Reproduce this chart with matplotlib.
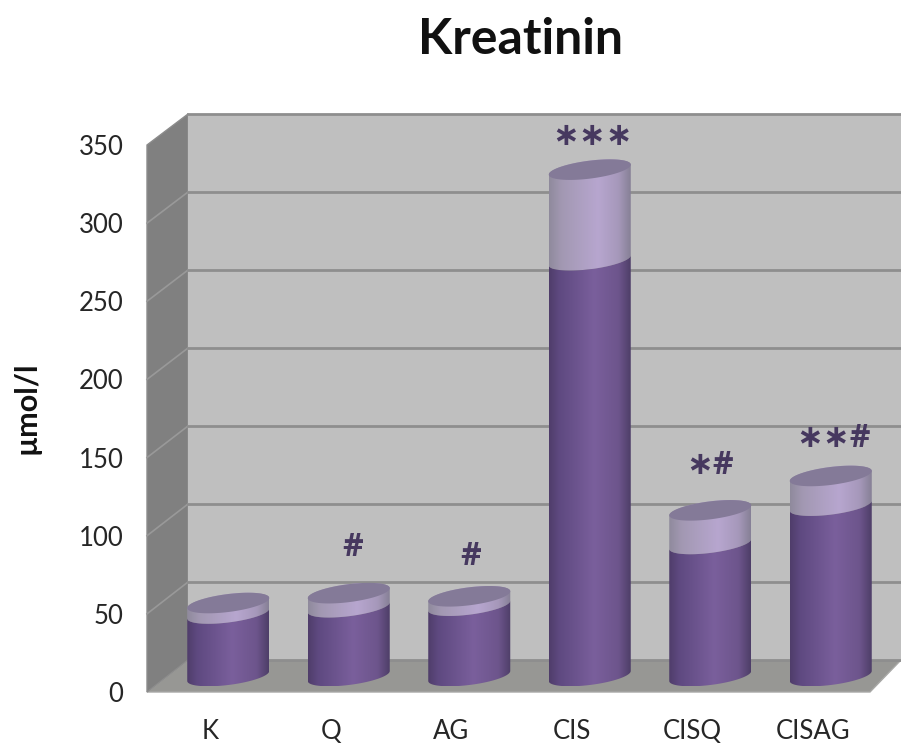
import numpy as np
import matplotlib
matplotlib.use("Agg")
import matplotlib.pyplot as plt
from matplotlib.colors import LinearSegmentedColormap
from matplotlib.path import Path
from matplotlib.patches import Polygon

categories = ["K", "Q", "AG", "CIS", "CISQ", "CISAG"]
mean_values = [40, 44, 45, 266, 84.5, 109]
upper_values = [46.7, 53, 51, 324, 106, 128]
sig_labels = ["", "#", "#", "∗∗∗", "∗#", "∗∗#"]
y_ticks = [0, 50, 100, 150, 200, 250, 300, 350]

W, H = 901, 745
plt.rcParams["font.family"] = ["Lato", "DejaVu Sans"]
fig = plt.figure(figsize=(W / 100, H / 100), dpi=100, facecolor="white")

def axes_px(x0, x1, ybot, ytop, z):
    ax = fig.add_axes([x0 / W, 1 - ybot / H, (x1 - x0) / W, (ybot - ytop) / H])
    ax.set_zorder(z)
    ax.patch.set_alpha(0)
    for s in ax.spines.values():
        s.set_visible(False)
    return ax

# pixel-space frame
frame = axes_px(0, W, H, 0, 0)
frame.set_xlim(0, W)
frame.set_ylim(H, 0)
frame.axis("off")
frame.add_patch(Polygon([(147, 692), (188, 660), (901, 660), (870, 692)], fc="#979794", ec="#a8a8a6", lw=1))
frame.add_patch(Polygon([(147, 145), (188, 114), (188, 660), (147, 692)], fc="#808080", ec="#8c8c8c", lw=1))
for v in y_ticks[1:-1]:
    yf = 692 - v * 547 / 350
    yb = 660 - v * 546 / 350
    frame.plot([147, 188], [yf, yb], color="#999999", lw=1.2)

# back wall
back = axes_px(188, 901, 660, 114, 1)
back.set_facecolor("#bfbfbf")
back.patch.set_alpha(1)
back.set_xlim(0, 1)
back.set_ylim(0, 350)
back.set_yticks(y_ticks)
back.tick_params(left=False, bottom=False, labelleft=False, labelbottom=False)
back.set_xticks([])
back.grid(axis="y", color="#8e8e8e", lw=2, clip_on=False)
back.set_axisbelow(True)

# front plane with the axis labels
main = axes_px(150, 873, 692, 145, 2)
main.set_xlim(-0.5, 5.5)
main.set_ylim(0, 350)
main.set_xticks(range(len(categories)), categories)
main.set_yticks(y_ticks)
main.tick_params(length=0, labelsize=18.5, labelcolor="#262626")
main.tick_params(axis="y", pad=19)
main.tick_params(axis="x", pad=19.5)
main.set_ylabel("µmol/l", fontsize=22, fontweight="bold", color="#111111")
main.yaxis.set_label_coords(-0.151, 0.52)

fig.text(521 / W, 1 - 39 / H, "Kreatinin", fontsize=36, fontweight="bold",
         ha="center", va="center", color="#111111")

# bars sit half-way into the depth; the axes reach below zero so the rounded bases show
bars = axes_px(147 + 21, 870 + 21, 692 - 16 + 30, 145 - 16, 3)
bars.axis("off")

dark_cmap = LinearSegmentedColormap.from_list("d", [(0, "#4f3d6a"), (0.12, "#5e4980"), (0.55, "#7a5f9c"),
                                                    (0.85, "#6d558c"), (1, "#4e3e68")])
light_cmap = LinearSegmentedColormap.from_list("l", [(0, "#8f8a9c"), (0.15, "#a298b2"), (0.6, "#b7a6cf"),
                                                     (0.85, "#a698ba"), (1, "#868096")])
A = 41 / 120.5
S = 5 * 350 / 547
B = 9 * 350 / 547
t_front = np.linspace(np.pi, 2 * np.pi, 60)
t_back = np.linspace(0, np.pi, 60)

def arc(i, v, t):
    return np.column_stack([i + A * np.cos(t), v + S * np.cos(t) + B * np.sin(t)])

def fill_band(i, lower_pts, upper_pts, cmap, z):
    pts = np.vstack([lower_pts, upper_pts])
    grad = np.linspace(0, 1, 256).reshape(1, -1)
    im = bars.imshow(grad, cmap=cmap, aspect="auto", zorder=z, interpolation="bilinear",
                     extent=[i - A, i + A, pts[:, 1].min(), pts[:, 1].max()])
    im.set_clip_path(Path(np.vstack([pts, pts[:1]])), transform=bars.transData)

for i, (m, u) in enumerate(zip(mean_values, upper_values)):
    # light band: front arc of the mean level, rear arc of the upper level
    fill_band(i, arc(i, m, t_front), arc(i, u, t_back), light_cmap, 3)
    # dark body
    fill_band(i, arc(i, 0, t_front), arc(i, m, t_front)[::-1], dark_cmap, 4)
    # top cap
    tt = np.linspace(0, 2 * np.pi, 120)
    bars.add_patch(Polygon(arc(i, u, tt), fc="#847a98", ec="none", zorder=5))

bars.set_xlim(-0.5, 5.5)
bars.set_ylim(-30 * 350 / 547, 350)

# significance marks
mark_gap = [0, 29, 25.5, 21.5, 29, 24]
mark_dx = [0, 0.03, 0.01, 0.02, 0, 0.02]
for i, lab in enumerate(sig_labels):
    if lab:
        bars.text(i + mark_dx[i], upper_values[i] + mark_gap[i], lab, ha="center", va="center",
                  fontsize=23, fontweight="bold", color="#46385f",
                  family=["Open Sans", "DejaVu Sans"], zorder=6)

fig.savefig("out.png", dpi=100)
